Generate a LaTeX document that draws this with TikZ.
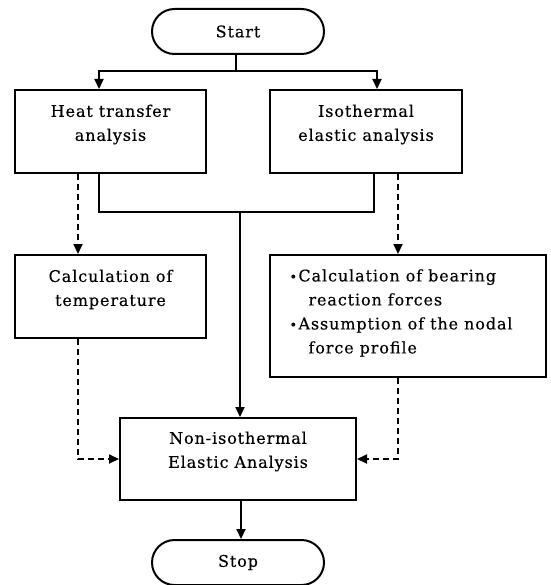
\documentclass[tikz,border=0pt]{standalone}
\usepackage{fontspec}
\setmainfont[LetterSpace=5.6,FakeBold=0.4]{DejaVu Serif}
\usetikzlibrary{arrows.meta,shapes.misc}
\begin{document}
\begin{tikzpicture}[x=1pt,y=-1pt,
  lw/.style={line width=2pt},
  box/.style={draw,lw,rectangle,inner sep=0pt},
  term/.style={draw,lw,rounded rectangle,minimum width=172pt,minimum height=45pt,inner sep=0pt,font=\fontsize{16}{20}\selectfont},
  txt/.style={font=\fontsize{16}{24}\selectfont,align=center,inner sep=0pt},
  arr/.style={lw,-{Triangle[length=10pt,width=9pt]}},
  sline/.style={lw},
  darr/.style={lw,dash pattern=on 6pt off 4pt,-{Triangle[length=10pt,width=9pt]}},
]
\useasboundingbox (0,0) rectangle (550,585);
\newcommand\bul{\makebox[9pt][l]{\fontsize{13}{13}\selectfont •}}
\node[term] (start) at (238,31.5) {Start};
\node[box,minimum width=191pt,minimum height=83pt,
  label={[txt,yshift=7pt]center:Heat transfer\\analysis}] (heat) at (110.5,131.5) {};
\node[box,minimum width=192pt,minimum height=83pt,
  label={[txt,yshift=7pt]center:Isothermal\\elastic analysis}] (iso) at (366,131.5) {};
\node[box,minimum width=191pt,minimum height=83pt,
  label={[txt,yshift=7pt]center:Calculation of\\temperature}] (temp) at (110.5,296.5) {};
\node[box,minimum width=276pt,minimum height=122pt,
  label={[txt,align=left,yshift=3pt,xshift=-7pt]center:\bul Calculation of bearing\\\hspace*{19pt}reaction forces\\\bul Assumption of the nodal\\\hspace*{19pt}force profile}] (bear) at (408,316) {};
\node[box,minimum width=236pt,minimum height=82pt,
  label={[txt,yshift=7.5pt]center:Non-isothermal\\Elastic Analysis}] (non) at (238,459) {};
\node[term] (stop) at (238,562.5) {Stop};
% junctions
\coordinate (j1) at (236,71);
\coordinate (j2) at (240,212);
% start to the two analyses
\draw[sline] (start.south -| j1) -- (j1);
\draw[arr] (j1) -| ([xshift=-11.5pt]heat.south |- heat.north);
\draw[arr] (j1) -| ([xshift=11pt]iso.south |- iso.north);
% solid merge
\draw[sline] ([xshift=-11.5pt]heat.south) |- (j2) -| ([xshift=8pt]iso.south);
\draw[arr] (j2) -- (j2 |- non.north);
% dashed branches
\draw[darr] ([xshift=-32.5pt]heat.south) -- ([xshift=-32.5pt]temp.north);
\draw[darr] ([xshift=32pt]iso.south) -- ([xshift=32pt]iso.south |- bear.north);
\draw[darr] ([xshift=-32.5pt]temp.south) |- (non.west);
\draw[darr] ([xshift=32pt]iso.south |- bear.south) |- (non.east);
% to stop
\draw[arr] ([xshift=3pt]non.south) -- ([xshift=3pt]stop.north);
\end{tikzpicture}
\end{document}
